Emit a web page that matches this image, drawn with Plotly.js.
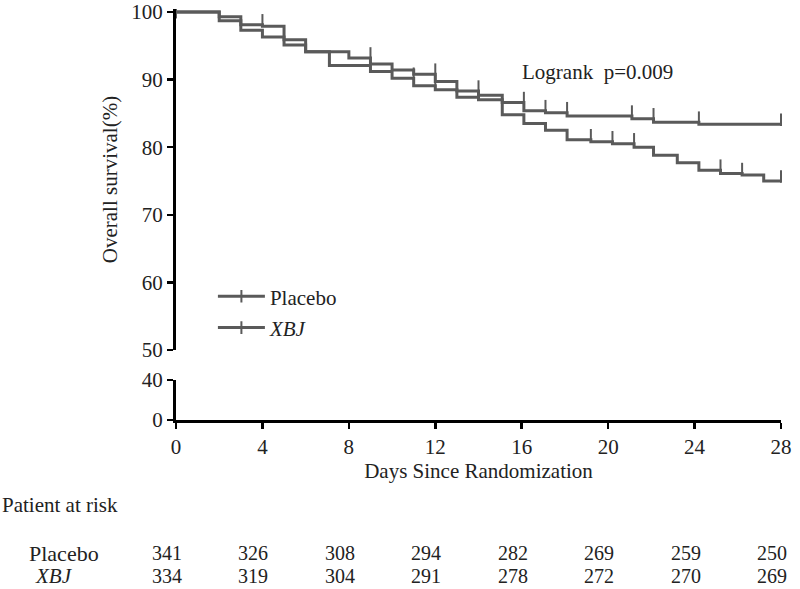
<!DOCTYPE html>
<html>
<head>
<meta charset="utf-8">
<script src="https://cdn.plot.ly/plotly-3.0.1.min.js"></script>
<style>body{margin:0;background:#fff}</style>
</head>
<body>
<div id="km" style="width:800px;height:589px"></div>
<script>
// survival steps: day the step starts, survival (%)
var placeboDays = [0, 2, 3, 4, 5, 6, 8, 9, 10, 11, 12, 13, 14, 15.1, 16.1, 17.1, 18.1, 19.2, 20.2, 21.2, 22.1, 23.2, 24.2, 25.2, 26.2, 27.2, 28];
var placeboSurv = [100, 99.3, 98.1, 97.9, 95.9, 94.1, 93.2, 92.3, 91.4, 90.8, 89.7, 88.3, 87.7, 84.8, 83.5, 82.5, 81.1, 80.8, 80.5, 80.0, 78.8, 77.7, 76.6, 76.1, 75.9, 75.0, 75.0];
var placeboCensor = [1, 4, 9, 12, 14, 19.2, 20.2, 21.2, 25.2, 26.2, 28];

var xbjDays = [0, 2, 3, 4, 5, 6, 7.1, 9, 10, 11, 12, 13, 14, 15.1, 16.1, 17.1, 18.1, 21.1, 22.1, 24.2, 28];
var xbjSurv = [100, 98.7, 97.3, 96.3, 95.1, 94.1, 92.1, 91.2, 90.2, 89.1, 88.5, 87.4, 87.0, 86.6, 85.4, 85.1, 84.6, 84.2, 83.7, 83.4, 83.4];
var xbjCensor = [11, 12, 16.1, 17.1, 18.1, 21.1, 22.1, 24.2, 28];

// patients at risk
var riskDays = [0, 4, 8, 12, 16, 20, 24, 28];
var placeboRisk = [341, 326, 308, 294, 282, 269, 259, 250];
var xbjRisk = [334, 319, 304, 291, 278, 272, 270, 269];

var xTicks = [0, 4, 8, 12, 16, 20, 24, 28];
var yTicksTop = [50, 60, 70, 80, 90, 100];
var yTicksLow = [0, 40];

var grey = "#5a5a5a";
var serif = "Liberation Serif, Times New Roman, serif";
var tickLift = 0.66; // censor mark sits on the curve and points up

function survAt(days, surv, t) {
  var s = surv[0];
  for (var i = 0; i < days.length; i++) {
    if (days[i] < t) s = surv[i];
  }
  return s;
}

function legendColors(n) {
  // only the first point colour is used for the legend symbol
  var c = [];
  for (var i = 0; i < n; i++) c.push(i == 0 ? grey : "rgba(0,0,0,0)");
  return c;
}

function stepTrace(days, surv, name, group) {
  return {
    x: days,
    y: surv,
    mode: "lines+markers",
    name: name,
    legendgroup: group,
    line: { shape: "hv", color: grey, width: 3 },
    marker: { symbol: "line-ns", size: 9, line: { width: 2, color: legendColors(days.length) } },
    hoverinfo: "skip",
  };
}

function censorTrace(days, surv, censor, group) {
  var ys = censor.map(function (t) { return survAt(days, surv, t) + tickLift; });
  return {
    x: censor,
    y: ys,
    mode: "markers",
    legendgroup: group,
    showlegend: false,
    cliponaxis: false,
    marker: { symbol: "line-ns", size: 9, line: { width: 2, color: grey } },
    hoverinfo: "skip",
  };
}

var annotations = [
  {
    xref: "x", yref: "y", x: 15.92, y: 91.1, xanchor: "left", yanchor: "middle",
    text: "Logrank\u00a0\u00a0p=0.009", showarrow: false, font: { size: 21 },
  },
  {
    xref: "paper", yref: "paper", x: -0.291, y: -0.207, xanchor: "left", yanchor: "middle",
    text: "Patient at risk", showarrow: false, font: { size: 21 },
  },
  {
    xref: "paper", yref: "paper", x: -0.246, y: -0.324, xanchor: "left", yanchor: "middle",
    text: "Placebo", showarrow: false, font: { size: 22 },
  },
  {
    xref: "paper", yref: "paper", x: -0.236, y: -0.380, xanchor: "left", yanchor: "middle",
    text: "<i>XBJ</i>", showarrow: false, font: { size: 21 },
  },
];
for (var i = 0; i < riskDays.length; i++) {
  annotations.push({
    xref: "x", yref: "paper", x: riskDays[i], y: -0.324, xshift: -9, yanchor: "middle",
    text: String(placeboRisk[i]), showarrow: false, font: { size: 20 },
  });
  annotations.push({
    xref: "x", yref: "paper", x: riskDays[i], y: -0.380, xshift: -9, yanchor: "middle",
    text: String(xbjRisk[i]), showarrow: false, font: { size: 20 },
  });
}

var axisStyle = {
  showline: true, linewidth: 3, linecolor: "#000",
  ticks: "outside", ticklen: 6, tickwidth: 2.5, tickcolor: "#000",
  showgrid: false, zeroline: false, fixedrange: true,
  tickfont: { family: serif, size: 21, color: "#222" },
};

Plotly.newPlot(
  "km",
  [
    stepTrace(placeboDays, placeboSurv, "Placebo", "p"),
    stepTrace(xbjDays, xbjSurv, "<i>XBJ</i>", "x"),
    censorTrace(placeboDays, placeboSurv, placeboCensor, "p"),
    censorTrace(xbjDays, xbjSurv, xbjCensor, "x"),
    // empty trace so the broken lower axis gets its own subplot
    { x: [], y: [], xaxis: "x", yaxis: "y2", mode: "lines", showlegend: false, hoverinfo: "skip" },
  ],
  {
    width: 800,
    height: 589,
    margin: { l: 176, r: 19, t: 9, b: 169 },
    paper_bgcolor: "#fff",
    plot_bgcolor: "#fff",
    font: { family: serif, size: 21, color: "#222" },
    showlegend: true,
    legend: {
      x: 0.061, y: 0.35, xanchor: "left", yanchor: "top",
      traceorder: "grouped", tracegroupgap: 1, itemwidth: 47,
      bgcolor: "rgba(0,0,0,0)", font: { family: serif, size: 21, color: "#222" },
    },
    xaxis: Object.assign({}, axisStyle, {
      range: [0, 28], tickvals: xTicks, anchor: "y2",
      title: { text: "Days Since Randomization", standoff: 6, font: { family: serif, size: 21, color: "#222" } },
    }),
    yaxis: Object.assign({}, axisStyle, {
      domain: [0.1703, 1], range: [50, 100.44], tickvals: yTicksTop, anchor: "x",
      title: { text: "Overall survival(%)", standoff: 8, font: { family: serif, size: 21, color: "#222" } },
    }),
    yaxis2: Object.assign({}, axisStyle, {
      domain: [0, 0.0973], range: [0, 40], tickvals: yTicksLow, anchor: "x",
    }),
    annotations: annotations,
  },
  { displayModeBar: false, staticPlot: true }
);
</script>
</body>
</html>
